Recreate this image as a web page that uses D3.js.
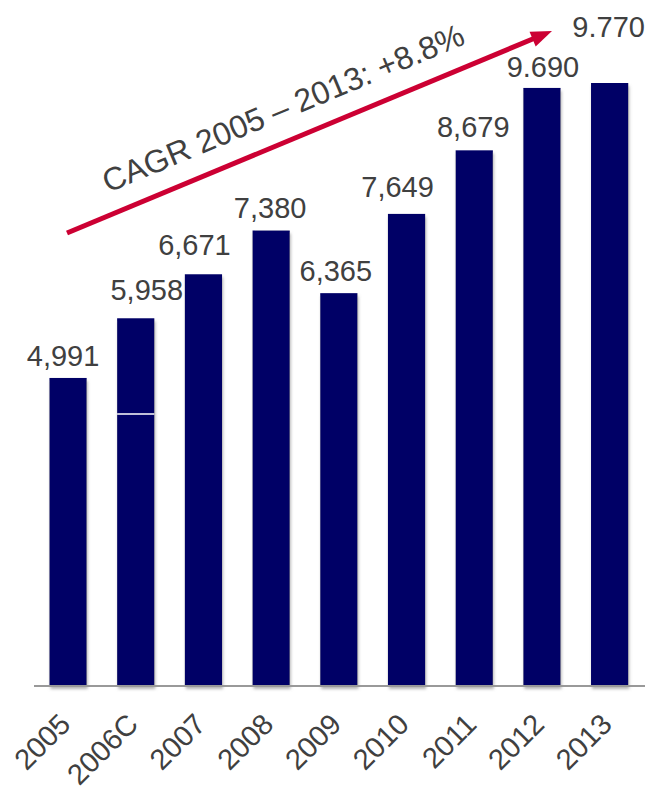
<!DOCTYPE html>
<html>
<head>
<meta charset="utf-8">
<script src="https://cdnjs.cloudflare.com/ajax/libs/d3/7.8.5/d3.min.js"></script>
<style>
	html, body { margin: 0; padding: 0; background: #fff; }
	svg { display: block; font-family: "Liberation Sans", Arial, sans-serif; }
</style>
</head>
<body>
<div id="chart"></div>
<script>

var years       = ['2005', '2006C', '2007', '2008', '2009', '2010', '2011', '2012', '2013'];
var values      = [4991, 5958, 6671, 7380, 6365, 7649, 8679, 9690, 9770];
var valueLabels = ['4,991', '5,958', '6,671', '7,380', '6,365', '7,649', '8,679', '9.690', '9.770'];
var splitValues = [null, 4408, null, null, null, null, null, null, null];
var cagrText    = 'CAGR 2005 \u2013 2013: +8.8%';

// label nudges (layout only)
var labelDx  = [-5, 11, -9, -1, -3, -9, -1, 1, -1];
var labelGap = [12, 18, 19, 13, 12, 17, 13, 11, 46];

var width  = 650,
	height = 791,
	baseY  = 686;

var svg = d3.select('#chart').append('svg')
	.attr('width', width)
	.attr('height', height);

var defs = svg.append('defs');
var shadow = defs.append('filter')
	.attr('id', 'barShadow')
	.attr('x', '-30%').attr('y', '-5%')
	.attr('width', '160%').attr('height', '115%');
shadow.append('feDropShadow')
	.attr('dx', 1).attr('dy', 3)
	.attr('stdDeviation', 1.8)
	.attr('flood-color', '#808080')
	.attr('flood-opacity', 0.6);

var x = d3.scaleBand()
	.domain(years)
	.range([34.2, 643.5])
	.paddingInner(0.45)
	.paddingOuter(0.225);

var y = d3.scaleLinear()
	.domain([0, 9770])
	.range([baseY, 83]);

// bars
svg.append('g').selectAll('rect')
	.data(values)
	.enter().append('rect')
		.attr('x', function(d, i){ return x(years[i]); })
		.attr('y', function(d){ return y(d); })
		.attr('width', x.bandwidth())
		.attr('height', function(d){ return baseY - y(d); })
		.attr('fill', '#000066')
		.attr('filter', 'url(#barShadow)');

// white divider in the 2006C bar
svg.append('g').selectAll('line')
	.data(splitValues.map(function(v, i){ return {v: v, i: i}; }).filter(function(d){ return d.v !== null; }))
	.enter().append('line')
		.attr('x1', function(d){ return x(years[d.i]); })
		.attr('x2', function(d){ return x(years[d.i]) + x.bandwidth(); })
		.attr('y1', function(d){ return y(d.v); })
		.attr('y2', function(d){ return y(d.v); })
		.attr('stroke', '#fff')
		.attr('stroke-width', 1.5);

// baseline
svg.append('line')
	.attr('x1', 34).attr('x2', 645)
	.attr('y1', baseY).attr('y2', baseY)
	.attr('stroke', '#999')
	.attr('stroke-width', 2);

// value labels
svg.append('g').selectAll('text')
	.data(values)
	.enter().append('text')
		.attr('x', function(d, i){ return x(years[i]) + x.bandwidth() / 2 + labelDx[i]; })
		.attr('y', function(d, i){ return y(d) - labelGap[i]; })
		.attr('text-anchor', 'middle')
		.attr('fill', '#404040')
		.style('font-size', '29px')
		.text(function(d, i){ return valueLabels[i]; });

// x axis labels, rotated
var xAxis = d3.axisBottom(x).tickSize(0).tickPadding(0);
var axisG = svg.append('g')
	.attr('transform', 'translate(0,' + baseY + ')')
	.call(xAxis);
axisG.select('.domain').remove();
axisG.selectAll('text')
	.attr('fill', '#404040')
	.style('font-size', '29px')
	.style('font-family', '"Liberation Sans", Arial, sans-serif')
	.attr('text-anchor', 'end')
	.attr('dy', 0)
	.attr('y', 0)
	.attr('transform', 'translate(4,40) rotate(-45)');

// CAGR arrow
var arrowStart = [67, 233],
	arrowEnd   = [552, 31];
var ang = Math.atan2(arrowEnd[1] - arrowStart[1], arrowEnd[0] - arrowStart[0]);
var headLen = 21, headW = 8;
var lineEnd = [arrowEnd[0] - Math.cos(ang) * (headLen - 2), arrowEnd[1] - Math.sin(ang) * (headLen - 2)];

svg.append('line')
	.attr('x1', arrowStart[0]).attr('y1', arrowStart[1])
	.attr('x2', lineEnd[0]).attr('y2', lineEnd[1])
	.attr('stroke', '#cc0033')
	.attr('stroke-width', 5);

var bx = arrowEnd[0] - Math.cos(ang) * headLen,
	by = arrowEnd[1] - Math.sin(ang) * headLen;
svg.append('path')
	.attr('d', d3.line()([
		arrowEnd,
		[bx - Math.sin(ang) * headW, by + Math.cos(ang) * headW],
		[bx + Math.sin(ang) * headW, by - Math.cos(ang) * headW]
	]) + 'Z')
	.attr('fill', '#cc0033');

svg.append('text')
	.attr('transform', 'translate(108,193) rotate(' + (ang * 180 / Math.PI) + ')')
	.attr('fill', '#404040')
	.style('font-size', '32px')
	.text(cagrText);

</script>
</body>
</html>
